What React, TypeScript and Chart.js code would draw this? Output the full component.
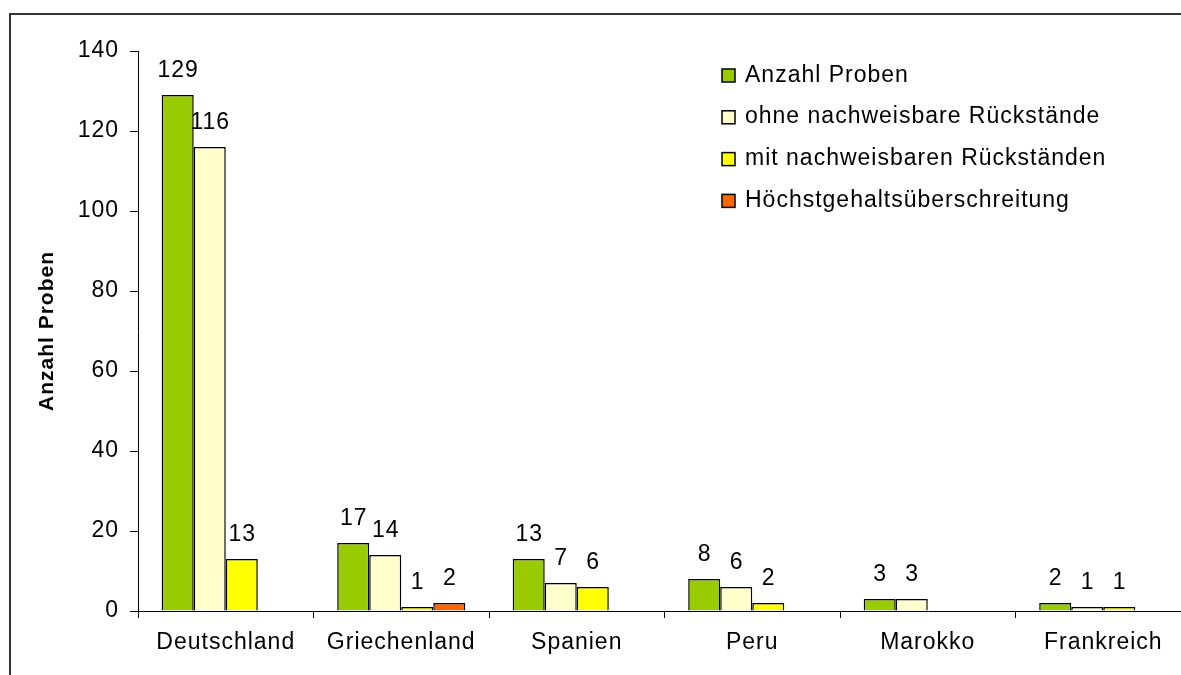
import React, { useEffect, useRef } from 'react';
import { Chart, registerables } from 'chart.js';

Chart.register(...registerables);

const categories = ['Deutschland', 'Griechenland', 'Spanien', 'Peru', 'Marokko', 'Frankreich'];
const seriesNames = [
  'Anzahl Proben',
  'ohne nachweisbare Rückstände',
  'mit nachweisbaren Rückständen',
  'Höchstgehaltsüberschreitung',
];
const anzahlProben = [129, 17, 13, 8, 3, 2];
const ohneRueckstaende = [116, 14, 7, 6, 3, 1];
const mitRueckstaenden = [13, 1, 6, 2, null, 1];
const hoechstgehalt = [null, 2, null, null, null, null];
const seriesColors = ['#99CC00', '#FFFFCC', '#FFFF00', '#FF6600'];
const yAxisTitle = 'Anzahl Proben';
const yMin = 0;
const yMax = 140;
const yStep = 20;

const FONT = "'Liberation Sans', Arial, Helvetica, sans-serif";
const SPACING = '1px';
const FS = 23;

const framePlugin = {
  id: 'frameAndSpacing',
  beforeUpdate(chart: any) {
    chart.ctx.letterSpacing = SPACING;
  },
  beforeLayout(chart: any) {
    chart.ctx.letterSpacing = SPACING;
  },
  beforeDraw(chart: any) {
    const ctx = chart.ctx;
    ctx.letterSpacing = SPACING;
    ctx.save();
    ctx.strokeStyle = '#333333';
    ctx.lineWidth = 2;
    ctx.beginPath();
    ctx.moveTo(10, chart.height + 5);
    ctx.lineTo(10, 14);
    ctx.lineTo(chart.width + 5, 14);
    ctx.stroke();
    ctx.restore();
  },
  afterDatasetsDraw(chart: any) {
    const ctx = chart.ctx;
    ctx.save();
    ctx.letterSpacing = SPACING;
    ctx.fillStyle = '#000';
    ctx.font = `${FS}px ${FONT}`;
    ctx.textAlign = 'center';
    ctx.textBaseline = 'alphabetic';
    chart.data.datasets.forEach((ds: any, i: number) => {
      const meta = chart.getDatasetMeta(i);
      meta.data.forEach((el: any, j: number) => {
        const v = ds.data[j];
        if (v === null || v === undefined) return;
        ctx.fillText(String(v), el.x + 0.5, el.y - 18);
      });
    });
    ctx.restore();
  },
  afterDraw(chart: any) {
    const ctx = chart.ctx;
    ctx.save();
    ctx.letterSpacing = SPACING;
    ctx.font = `${FS}px ${FONT}`;
    ctx.textAlign = 'left';
    ctx.textBaseline = 'alphabetic';
    chart.data.datasets.forEach((ds: any, i: number) => {
      const rowY = 75.5 + i * 41.8;
      ctx.fillStyle = ds.backgroundColor;
      ctx.fillRect(722, rowY - 6.5, 13, 13);
      ctx.strokeStyle = '#000';
      ctx.lineWidth = 1.5;
      ctx.strokeRect(722, rowY - 6.5, 13, 13);
      ctx.fillStyle = '#000';
      ctx.fillText(ds.label, 745, rowY + 6);
    });
    ctx.restore();
  },
};

export default function App() {
  const ref = useRef<HTMLCanvasElement | null>(null);

  useEffect(() => {
    if (!ref.current) return;
    Chart.defaults.font.family = FONT;
    Chart.defaults.font.size = FS;
    Chart.defaults.color = '#000';
    const seriesData = [anzahlProben, ohneRueckstaende, mitRueckstaenden, hoechstgehalt];
    const chart = new Chart(ref.current, {
      type: 'bar',
      data: {
        labels: categories,
        datasets: seriesNames.map((name, i) => ({
          label: name,
          data: seriesData[i],
          backgroundColor: seriesColors[i],
          borderColor: '#000',
          borderWidth: 1.5,
          categoryPercentage: 0.73,
          barPercentage: 1,
        })),
      },
      options: {
        animation: false,
        responsive: false,
        devicePixelRatio: 1,
        layout: { padding: { top: 51, right: 9, left: 0, bottom: 0 } },
        plugins: {
          legend: { display: false },
          tooltip: { enabled: false },
        },
        scales: {
          x: {
            grid: {
              display: true,
              drawOnChartArea: false,
              drawTicks: true,
              tickLength: 7,
              color: '#000',
              offset: true,
            },
            border: { display: true, color: '#000', width: 1 },
            ticks: {
              color: '#000',
              font: { size: FS, family: FONT },
              padding: 11,
              autoSkip: false,
              maxRotation: 0,
            },
            afterFit: (s: any) => {
              s.height = 64;
            },
          },
          y: {
            min: yMin,
            max: yMax,
            ticks: {
              stepSize: yStep,
              color: '#000',
              font: { size: FS, family: FONT },
              padding: 11,
            },
            grid: {
              display: true,
              drawOnChartArea: false,
              drawTicks: true,
              tickLength: 8,
              color: '#000',
            },
            border: { display: true, color: '#000', width: 1 },
            title: {
              display: true,
              text: yAxisTitle,
              color: '#000',
              font: { size: 21, weight: 'bold', family: FONT },
              padding: { top: 35, bottom: 0 },
            },
            afterFit: (s: any) => {
              s.width = 138;
            },
          },
        },
      } as any,
      plugins: [framePlugin],
    });
    return () => chart.destroy();
  }, []);

  return (
    <div
      style={{
        position: 'absolute',
        left: 0,
        top: 0,
        width: 1181,
        height: 675,
        overflow: 'hidden',
        background: '#fff',
      }}
    >
      <canvas ref={ref} width={1200} height={675} style={{ display: 'block', width: 1200, height: 675 }} />
    </div>
  );
}
